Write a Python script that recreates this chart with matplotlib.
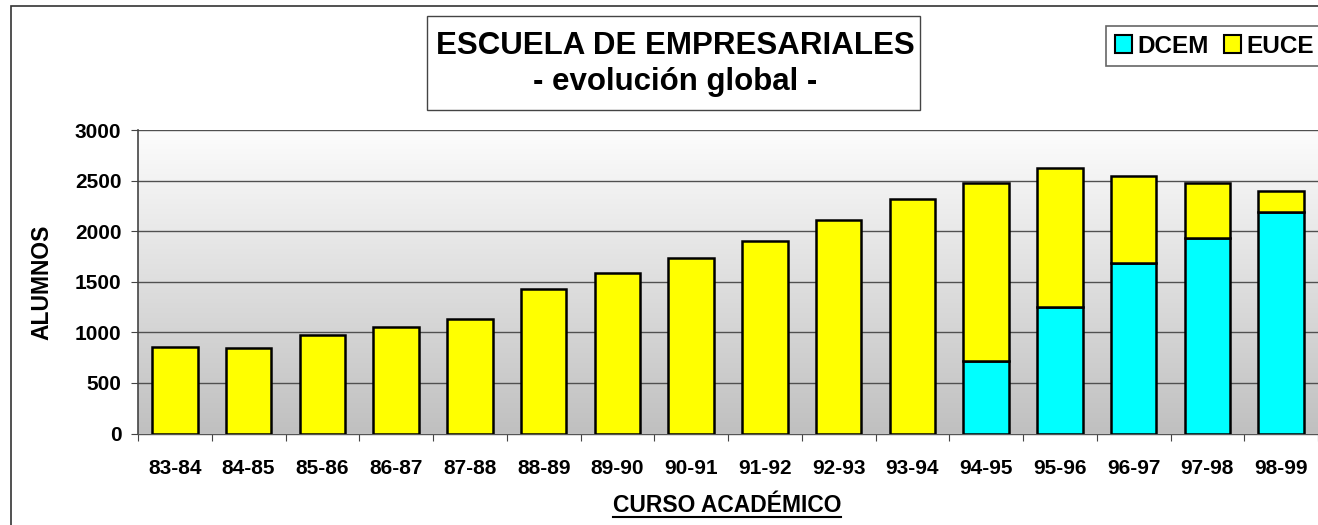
import matplotlib

matplotlib.use("Agg")

import matplotlib.pyplot as plt
import numpy as np
from matplotlib.lines import Line2D
from matplotlib.patches import Patch, Rectangle

CURSOS = [
    "83-84", "84-85", "85-86", "86-87", "87-88", "88-89", "89-90", "90-91",
    "91-92", "92-93", "93-94", "94-95", "95-96", "96-97", "97-98", "98-99",
]
DCEM = [0, 0, 0, 0, 0, 0, 0, 0, 0, 0, 0, 720, 1247, 1682, 1929, 2186]
EUCE = [858, 845, 970, 1055, 1128, 1425, 1589, 1734, 1902, 2110, 2316,
        1752, 1377, 866, 543, 213]
Y_TICKS = [0, 500, 1000, 1500, 2000, 2500, 3000]

W, H = 1318, 525
FONT = "Liberation Sans"
CYAN = "#00FFFF"
YELLOW = "#FFFF00"


def px(x, y):
    # pixel coords (top-left origin) -> figure fraction
    return x / W, 1 - y / H


def draw_frame(fig):
    fig.add_artist(Rectangle(px(10.5, 540), 1400 / W, 534 / H,
                             transform=fig.transFigure, fill=False,
                             edgecolor="#333333", linewidth=1.2, clip_on=False))
    x0, y0 = px(427, 110)
    fig.add_artist(Rectangle((x0, y0), 493 / W, 94 / H, transform=fig.transFigure,
                             facecolor="white", edgecolor="#444444", linewidth=1.0))
    fig.text(*px(675, 46.5), "ESCUELA DE EMPRESARIALES", ha="center", va="center",
             fontsize=22.5, fontweight="bold", family=FONT)
    fig.text(*px(675, 82), "- evolución global -", ha="center", va="center",
             fontsize=22.5, fontweight="bold", family=FONT)


def draw_chart(fig):
    ax = fig.add_axes([138 / W, (H - 433.5) / H, (W - 138) / W, 303.5 / H])
    x = np.arange(len(CURSOS))
    dcem = np.array(DCEM)
    euce = np.array(EUCE)

    grad = np.linspace(0, 1, 256).reshape(-1, 1)
    ax.imshow(grad, extent=[-0.5, len(CURSOS) - 0.5, 0, 3000], aspect="auto",
              cmap=matplotlib.colors.LinearSegmentedColormap.from_list(
                  "bg", ["#C0C0C0", "#FDFDFD"]),
              origin="lower", zorder=0)

    mask = dcem > 0
    ax.bar(x[mask], dcem[mask], width=0.62, color=CYAN, edgecolor="black",
           linewidth=1.8, zorder=3)
    ax.bar(x, euce, bottom=dcem, width=0.62, color=YELLOW, edgecolor="black",
           linewidth=1.8, zorder=3)

    ax.set_xlim(-0.5, len(CURSOS) - 0.5)
    ax.set_ylim(0, 3000)
    ax.set_yticks(Y_TICKS)
    ax.set_yticklabels([str(v) for v in Y_TICKS], fontsize=15,
                       fontweight="bold", family=FONT)
    ax.set_xticks(x)
    ax.set_xticklabels(CURSOS, fontsize=15, fontweight="bold", family=FONT)
    ax.set_xticks(np.arange(len(CURSOS) + 1) - 0.5, minor=True)
    ax.tick_params(axis="x", which="major", length=0, pad=18)
    ax.tick_params(axis="x", which="minor", length=5, width=0.8,
                   color="#444444", direction="out")
    ax.tick_params(axis="y", length=5, width=0.8, color="#444444",
                   direction="out", pad=7)
    ax.grid(axis="y", color="#505050", linewidth=1.0, zorder=1)
    ax.set_axisbelow(True)
    for side in ("top", "right"):
        ax.spines[side].set_visible(False)
    ax.spines["left"].set_color("#444444")
    ax.spines["left"].set_linewidth(1.2)
    ax.spines["bottom"].set_color("#555555")
    ax.spines["bottom"].set_linewidth(1.0)
    return ax


def draw_labels(fig):
    fig.text(*px(42, 282), "ALUMNOS", rotation=90, ha="center", va="center",
             fontsize=16.5, fontweight="bold", family=FONT)
    t = fig.text(*px(727, 506), "CURSO ACADÉMICO", ha="center", va="center",
                 fontsize=16.5, fontweight="bold", family=FONT)
    fig.canvas.draw()
    bb = t.get_window_extent().transformed(fig.transFigure.inverted())
    uy = 1 - 517 / H
    fig.add_artist(Line2D([bb.x0, bb.x1], [uy, uy], transform=fig.transFigure,
                          color="black", linewidth=1.5))


def draw_legend(fig):
    handles = [
        Patch(facecolor=CYAN, edgecolor="black", linewidth=1.5, label="DCEM"),
        Patch(facecolor=YELLOW, edgecolor="black", linewidth=1.5, label="EUCE"),
    ]
    leg = fig.legend(handles=handles, loc="upper left",
                     bbox_to_anchor=px(1106, 26), ncol=2, frameon=True,
                     fancybox=False, edgecolor="#666666", framealpha=1,
                     handlelength=0.7, handleheight=0.7, handletextpad=0.25,
                     columnspacing=0.6, borderpad=0.35, borderaxespad=0,
                     prop={"family": FONT, "weight": "bold", "size": 17.5})
    leg.get_frame().set_linewidth(1.2)


def main() -> None:
    fig = plt.figure(figsize=(W / 100, H / 100), dpi=100)
    draw_frame(fig)
    draw_chart(fig)
    draw_legend(fig)
    draw_labels(fig)
    fig.savefig("out.png", dpi=100)
    plt.close(fig)


if __name__ == "__main__":
    main()
